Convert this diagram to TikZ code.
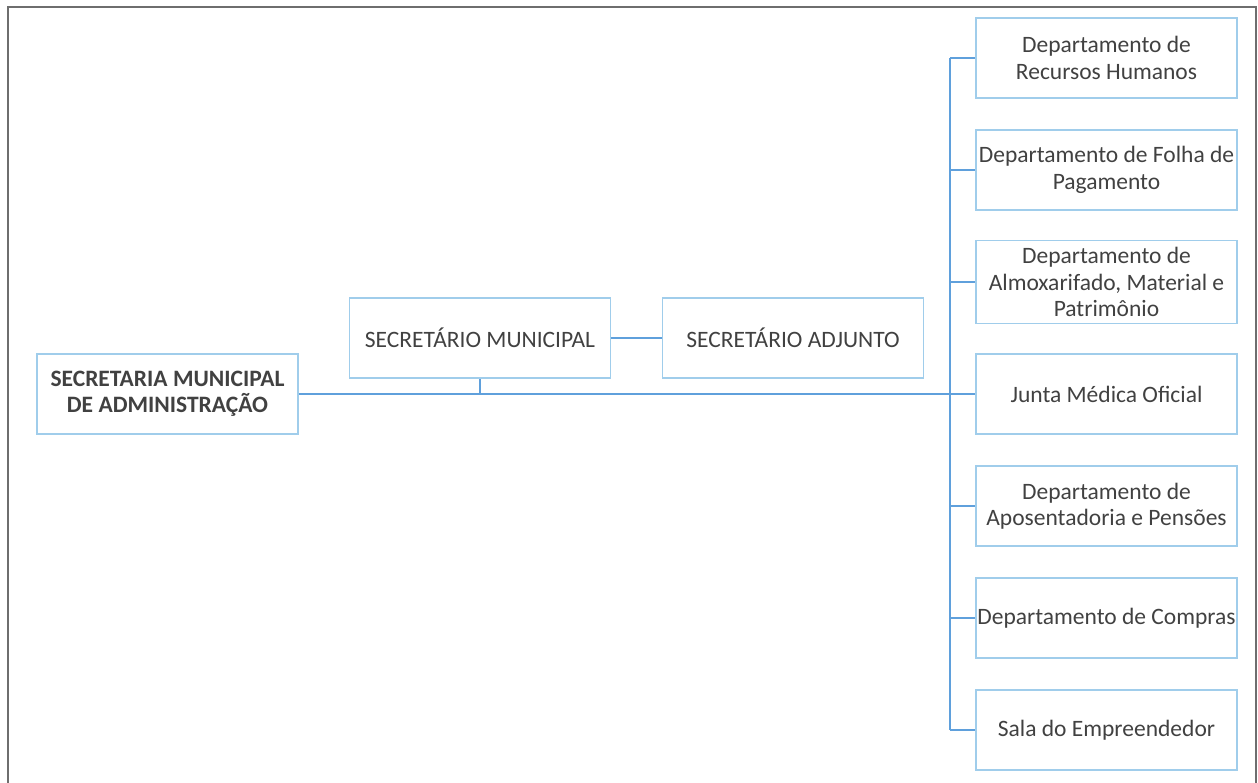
\documentclass[tikz,border=0pt]{standalone}
\usepackage{fontspec}
\setmainfont{Carlito}
\usepackage{xcolor}
\usetikzlibrary{positioning}

\definecolor{caixa}{RGB}{160,205,235}
\definecolor{linha}{RGB}{95,160,220}
\definecolor{texto}{RGB}{65,65,65}
\definecolor{moldura}{RGB}{110,110,110}

\tikzset{
  setor/.style={draw=caixa, line width=0.8pt, minimum width=130.5pt,
    minimum height=40pt, inner xsep=0.5pt, align=center, text=texto,
    font=\fontsize{11.75}{13.2}\selectfont},
  liga/.style={draw=linha, line width=1pt}
}

\begin{document}
\begin{tikzpicture}[x=0.5pt,y=-0.5pt]
\useasboundingbox (0,0) rectangle (1258,782);

% moldura
\draw[moldura, line width=1pt] (8,7) rectangle (1256,800);

% secretaria e secretarios
\node[setor, font=\bfseries\fontsize{11.75}{13.2}\selectfont] (SMA) at (167.5,394) {SECRETARIA MUNICIPAL\\DE ADMINISTRAÇÃO};
\node[setor] (SM) at (480,338) {SECRETÁRIO MUNICIPAL};
\node[setor] (SA) at (793,338) {SECRETÁRIO ADJUNTO};

% departamentos
\node[setor] (D1) at (1106.5,58) {Departamento de\\Recursos Humanos};
\node[setor] (D2) at (1106.5,170) {Departamento de Folha de\\Pagamento};
\node[setor] (D3) at (1106.5,282) {Departamento de\\Almoxarifado, Material e\\Patrimônio};
\node[setor] (D4) at (1106.5,394) {Junta Médica Oficial};
\node[setor] (D5) at (1106.5,506) {Departamento de\\Aposentadoria e Pensões};
\node[setor] (D6) at (1106.5,618) {Departamento de Compras};
\node[setor] (D7) at (1106.5,730) {Sala do Empreendedor};

% ligacoes
\coordinate (topo) at (950,58);
\coordinate (base) at (950,730);
\draw[liga] (SMA.east) -- (D4.west);
\draw[liga] (SM.east) -- (SA.west);
\draw[liga] (SM.south) -- (SM.south|-SMA.east);
\draw[liga] (topo) -- (base);
\foreach \d in {D1,D2,D3,D4,D5,D6,D7}
  \draw[liga] (topo|-\d.west) -- (\d.west);

\end{tikzpicture}
\end{document}
